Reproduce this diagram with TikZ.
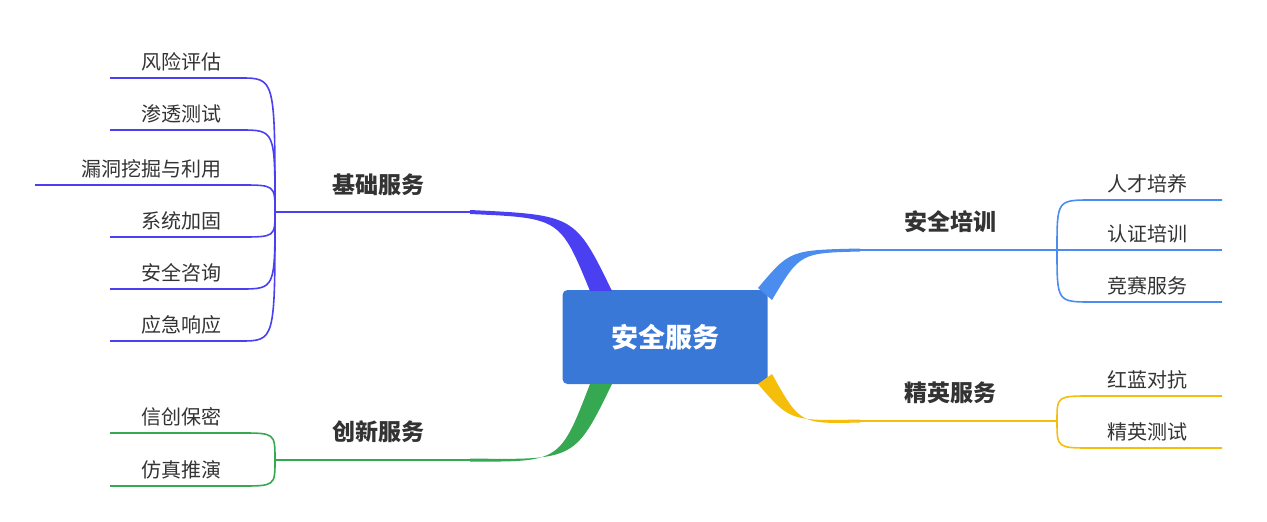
\documentclass[tikz,border=0pt]{standalone}
\usepackage{fontspec}
\setmainfont{Noto Sans CJK SC}
\newfontfamily\cjkb{Noto Sans CJK SC Bold}
\definecolor{cA}{HTML}{4A40F2}
\definecolor{cB}{HTML}{36A852}
\definecolor{cC}{HTML}{4A8DEE}
\definecolor{cD}{HTML}{F5BE0A}
\definecolor{cM}{HTML}{3A78D8}
\definecolor{tx}{HTML}{333333}
\tikzset{leaf/.style={font=\fontsize{20}{22}\selectfont,text=tx,inner sep=0pt},
 lab/.style={font=\bfseries\fontsize{23}{26}\selectfont,text=tx,inner sep=0pt},
 lnk/.style={line width=1.6pt}}
\begin{document}
\begin{tikzpicture}[x=1pt,y=-1pt]
\useasboundingbox (0,0) rectangle (1267,522);
% center
\node[fill=cM,rounded corners=5pt,minimum width=205pt,minimum height=94pt,text=white,font=\bfseries\fontsize{27}{30}\selectfont] (c) at (665,337) {安全服务};
% branch shapes
\fill[cA] (612,291) .. controls (575,215) .. (470,210) -- (470,214) .. controls (560,218) .. (590,291) -- cycle;
\fill[cB] (612,384) .. controls (575,460) .. (470,458.5) -- (470,461.5) .. controls (560,462) .. (590,384) -- cycle;
\fill[cC] (758,288) .. controls (790,250) .. (860,248.5) -- (860,251.5) .. controls (800,253) .. (772,300) -- cycle;
\fill[cD] (758,384) .. controls (790,421) .. (860,419.5) -- (860,422.5) .. controls (800,424) .. (772,374) -- cycle;
% labels
\node[lab] (b1) at (378,185) {基础服务};
\node[lab] (b2) at (378,432) {创新服务};
\node[lab] (b3) at (950,222) {安全培训};
\node[lab] (b4) at (950,393) {精英服务};
\coordinate (h1) at (275,212);
\coordinate (h2) at (275,460);
\coordinate (h3) at (1057,250);
\coordinate (h4) at (1057,421);
\draw[cA,lnk] (h1) -- (470,212);
\draw[cB,lnk] (h2) -- (470,460);
\draw[cC,lnk] (860,250) -- (h3);
\draw[cD,lnk] (860,421) -- (h4);
% left leaves
\foreach \t/\y/\x [count=\i] in {风险评估/78/110,渗透测试/130/110,漏洞挖掘与利用/185/35,系统加固/237/110,安全咨询/289/110,应急响应/341/110}{
  \node[leaf,anchor=base east] (la\i) at (222,\y-9) {\t};
  \draw[cA,lnk] (h1) .. controls (275,\y) .. (240,\y) -- (\x,\y);
}
\foreach \t/\y [count=\i] in {信创保密/433,仿真推演/486}{
  \node[leaf,anchor=base east] (lb\i) at (222,\y-9) {\t};
  \draw[cB,lnk] (h2) .. controls (275,\y) .. (240,\y) -- (110,\y);
}
\foreach \t/\y [count=\i] in {人才培养/200,认证培训/250,竞赛服务/302}{
  \node[leaf,anchor=base west] (lc\i) at (1107,\y-9) {\t};
  \draw[cC,lnk] (h3) .. controls (1057,\y) .. (1092,\y) -- (1222,\y);
}
\foreach \t/\y [count=\i] in {红蓝对抗/396,精英测试/448}{
  \node[leaf,anchor=base west] (ld\i) at (1107,\y-9) {\t};
  \draw[cD,lnk] (h4) .. controls (1057,\y) .. (1092,\y) -- (1222,\y);
}
\end{tikzpicture}
\end{document}
